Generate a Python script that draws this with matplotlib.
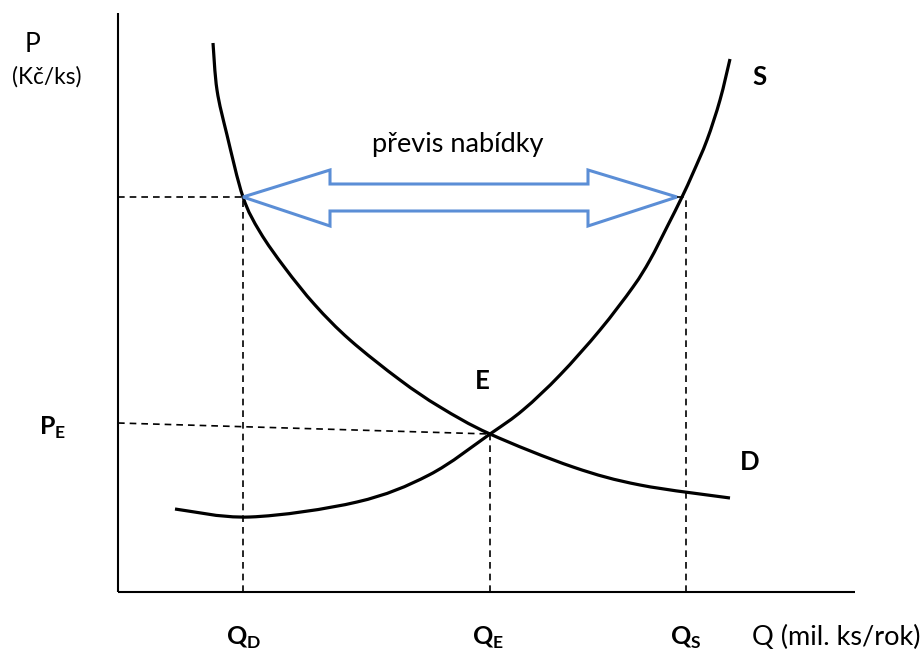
import numpy as np
import matplotlib
matplotlib.use("Agg")
import matplotlib.pyplot as plt
from matplotlib.patches import Polygon, PathPatch
from matplotlib.path import Path

plt.rcParams['font.family'] = ['Lato', 'DejaVu Sans']
plt.rcParams['mathtext.fontset'] = 'custom'
plt.rcParams['mathtext.rm'] = 'Lato'
plt.rcParams['mathtext.bf'] = 'Lato:bold'

# ---- data (Q, P in chart units; origin = axes corner) ----
supply_q = [57, 132, 239, 311, 372, 405, 442, 482, 515, 532, 549, 564, 575, 589, 602, 612]
supply_p = [83, 75, 90, 117, 158, 182, 217, 262, 305, 332, 365, 395, 419, 452, 492, 533]

demand_q = [95, 99, 109, 125, 142, 167, 197, 232, 282, 322, 372, 455, 522, 612]
demand_p = [549, 502, 457, 395, 360, 324, 287, 252, 212, 185, 158, 125, 107, 94]

q_d, q_e, q_s = 125, 372, 568          # quantities marked on the axis
p_high, p_e_axis, p_e = 395, 169, 158  # price with surplus, P_E at axis, P at E

# double arrow (převis nabídky)
arrow_tip_l, arrow_back_l, arrow_back_r, arrow_tip_r = 125, 212, 470, 559
arrow_head_top, arrow_shaft_top, arrow_mid, arrow_shaft_bot, arrow_head_bot = 422, 408, 395, 381, 366

x_axis_len, y_axis_len = 737, 579


def smooth_path(xs, ys):
    """Bezier path through the read points (Catmull-Rom tangents), drawn by matplotlib."""
    p = np.column_stack([xs, ys]).astype(float)
    n = len(p)
    verts = [p[0]]
    codes = [Path.MOVETO]
    for i in range(n - 1):
        p0 = p[i - 1] if i > 0 else p[i]
        p1, p2 = p[i], p[i + 1]
        p3 = p[i + 2] if i + 2 < n else p[i + 1]
        c1 = p1 + (p2 - p0) / 6.0
        c2 = p2 - (p3 - p1) / 6.0
        verts += [c1, c2, p2]
        codes += [Path.CURVE4] * 3
    return Path(verts, codes)


# ---- figure ----
fig = plt.figure(figsize=(9.23, 6.51), dpi=100)
ax = fig.add_axes([0, 0, 1, 1])
ax.set_xlim(-118, 805)
ax.set_ylim(-59, 592)
ax.axis('off')

# axes lines
ax.plot([0, 0], [0, y_axis_len], color='black', lw=1.5, solid_capstyle='butt')
ax.plot([0, x_axis_len], [0, 0], color='black', lw=1.5, solid_capstyle='butt')

# dashed guides
dash = dict(color='black', lw=1.2, linestyle=(0, (4, 3)))
ax.plot([0, q_d], [p_high, p_high], **dash)
ax.plot([q_d, q_d], [0, p_high], **dash)
ax.plot([arrow_tip_r, q_s], [p_high, p_high], **dash)
ax.plot([q_s, q_s], [0, p_high], **dash)
ax.plot([0, q_e], [p_e_axis, p_e], **dash)
ax.plot([q_e, q_e], [0, p_e], **dash)

# curves
for xs, ys in [(supply_q, supply_p), (demand_q, demand_p)]:
    ax.add_patch(PathPatch(smooth_path(xs, ys), facecolor='none', edgecolor='black',
                           lw=2.3, capstyle='butt', joinstyle='round'))

# arrow
arrow_pts = np.array([
    [arrow_tip_l, arrow_mid],
    [arrow_back_l, arrow_head_top],
    [arrow_back_l, arrow_shaft_top],
    [arrow_back_r, arrow_shaft_top],
    [arrow_back_r, arrow_head_top],
    [arrow_tip_r, arrow_mid],
    [arrow_back_r, arrow_head_bot],
    [arrow_back_r, arrow_shaft_bot],
    [arrow_back_l, arrow_shaft_bot],
    [arrow_back_l, arrow_head_bot],
])
ax.add_patch(Polygon(arrow_pts, closed=True, facecolor='none', edgecolor='#5B8ED6', lw=2.2, joinstyle='miter'))

# texts
ax.text(-93, 540, 'P', fontsize=19, ha='left', va='baseline')
ax.text(-106, 508, '(Kč/ks)', fontsize=16.3, ha='left', va='baseline')
ax.text(254, 440, 'převis nabídky', fontsize=19.5, ha='left', va='baseline')
ax.text(634, -53, 'Q (mil. ks/rok)', fontsize=19.5, ha='left', va='baseline')

ax.text(634, 507, 'S', fontsize=18.5, fontweight='bold', ha='left', va='baseline')
ax.text(357, 203, 'E', fontsize=18.5, fontweight='bold', ha='left', va='baseline')
ax.text(622, 122, 'D', fontsize=18.5, fontweight='bold', ha='left', va='baseline')

ax.text(-79, 157, r'$\mathbf{P}_{\mathbf{E}}$', fontsize=18, ha='left', va='baseline')
ax.text(q_d - 17, -53, r'$\mathbf{Q}_{\mathbf{D}}$', fontsize=18, ha='left', va='baseline')
ax.text(q_e - 18, -53, r'$\mathbf{Q}_{\mathbf{E}}$', fontsize=18, ha='left', va='baseline')
ax.text(q_s - 16, -53, r'$\mathbf{Q}_{\mathbf{S}}$', fontsize=18, ha='left', va='baseline')

fig.savefig('out.png', dpi=100)
